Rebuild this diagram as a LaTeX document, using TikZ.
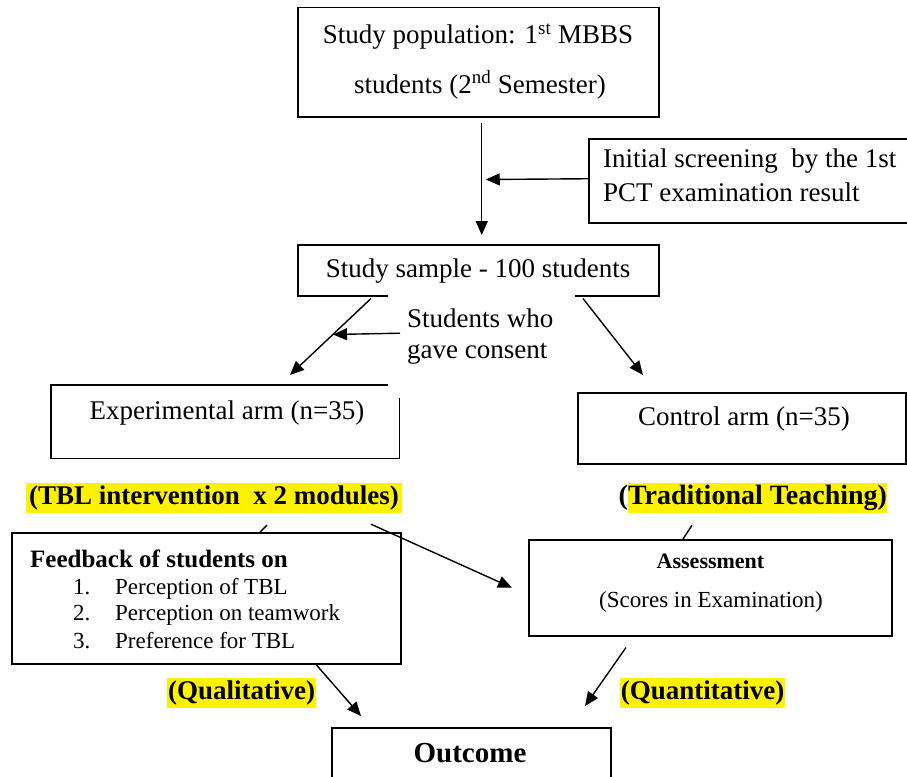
\documentclass[tikz,border=0pt]{standalone}
\usepackage{fontspec}
\setmainfont{Liberation Serif}
\usetikzlibrary{arrows.meta,calc}
\begin{document}
\begin{tikzpicture}[x=1pt,y=-1pt,
  box/.style={draw=black,line width=1.5pt,inner sep=0pt,anchor=north west},
  conn/.style={line width=1.4pt,-{Triangle[length=14pt,width=12pt]}},
  plainln/.style={line width=1.4pt},
  txt/.style={inner sep=0pt,anchor=base,font=\fontsize{27}{32}\selectfont},
  txtl/.style={inner sep=0pt,anchor=base west,font=\fontsize{27}{32}\selectfont},
  item/.style={inner sep=0pt,anchor=base west,font=\fontsize{23}{28}\selectfont},
  hl/.style={fill=yellow,inner sep=0pt,minimum height=30pt,font=\bfseries\fontsize{27}{32}\selectfont}
]
\useasboundingbox (0,0) rectangle (907,776);
\clip (0,0) rectangle (907,776);
\fill[white] (0,0) rectangle (907,776);

% Study population
\node[box,minimum width=361pt,minimum height=109pt] (pop) at (297,7) {};
\node[txt] (popa) at (478,44) {Study population: 1\textsuperscript{st} MBBS};
\node[txt] (popb) at (480,93) {students (2\textsuperscript{nd} Semester)};

% Initial screening
\node[box,minimum width=330pt,minimum height=84pt] (scr) at (588,138) {};
\node[txtl] (scra) at (603,167) {Initial screening\ \ by the 1st};
\node[txtl] (scrb) at (603,201) {PCT examination result};

% Study sample
\node[box,minimum width=361pt,minimum height=51pt] (samp) at (297,244) {};
\node[txt] (sampt) at (478,277) {Study sample - 100 students};

% consent note (white ground hides part of the sample box border)
\node[fill=white,inner sep=0pt,anchor=north west,minimum width=187pt,minimum height=80pt] (cons) at (388,292) {};
\node[txtl] (consa) at (407,327) {Students who};
\node[txtl] (consb) at (407,358) {gave consent};

% Experimental arm (border drawn with gaps)
\node[inner sep=0pt,anchor=north west,minimum width=348pt,minimum height=73pt] (exp) at (51,385) {};
\draw[line width=1.5pt] ($(exp.north east)+(-11,0)$) -- (exp.north west) -- (exp.south west) -- (exp.south east) -- ($(exp.north east)+(0,13)$);
\node[txt] (expt) at (227,419) {Experimental arm (n=35)};

% Control arm
\node[box,minimum width=328pt,minimum height=71pt] (ctrl) at (577,392) {};
\node[txt] (ctrlt) at (744,425) {Control arm (n=35)};

% highlighted labels
\node[hl,minimum width=376pt] (tbl) at (214,498) {(TBL intervention\ \ x 2 modules)};
\node[hl,minimum width=259pt,font=\bfseries\fontsize{28}{32}\selectfont] (trad) at (757.5,498) {\makebox[259pt][l]{\llap{(}Traditional Teaching)}};

% Feedback box
\node[box,minimum width=389pt,minimum height=131pt] (fb) at (11,532) {};
\node[inner sep=0pt,anchor=base west,font=\bfseries\fontsize{25}{30}\selectfont] (fbt) at (30,567) {Feedback of students on};
\node[item] (n1) at (73,594) {1.};
\node[item] (i1) at (115,594) {Perception of TBL};
\node[item] (n2) at (73,620) {2.};
\node[item] (i2) at (115,620) {Perception on teamwork};
\node[item] (n3) at (73,648) {3.};
\node[item] (i3) at (115,648) {Preference for TBL};

% Assessment box
\node[box,minimum width=363pt,minimum height=96pt] (asm) at (528,539) {};
\node[inner sep=0pt,anchor=base,font=\bfseries\fontsize{22}{26}\selectfont] (asmt) at (710.5,568) {Assessment};
\node[inner sep=0pt,anchor=base,font=\fontsize{23}{28}\selectfont] (asms) at (711,607) {(Scores in Examination)};

\node[hl,minimum width=149pt] (qual) at (241.5,693) {(Qualitative)};
\node[hl,minimum width=165pt] (quant) at (702.5,693) {(Quantitative)};

% Outcome
\node[box,minimum width=279pt,minimum height=80pt] (out) at (331,727) {};
\node[inner sep=0pt,anchor=base,font=\bfseries\fontsize{29}{34}\selectfont] (outt) at (470,762) {Outcome};

% connectors
\draw[conn] ($(pop.south)+(3.5,5)$) -- ($(samp.north)+(3.5,-9)$);
\coordinate (vhit) at ($(pop.south)+(7.5,62)$);
\draw[conn] ($(scr.west)+(0,-2)$) -- (vhit);

\draw[conn] ($(samp.south west)+(74,2)$) -- ($(exp.north west)+(239,-10)$);
\draw[conn] ($(samp.south west)+(286,2)$) -- ($(ctrl.north west)+(66,-17)$);
\coordinate (chit) at ($(samp.south west)+(36,38)$);
\draw[conn] ($(cons.west)+(12,1)$) -- (chit);

\draw[plainln] ($(tbl.south)+(53,12)$) -- ($(fb.north west)+(249,0)$);
\draw[conn] ($(tbl.south)+(157,11)$) -- ($(asm.west)+(-16,0)$);
\draw[plainln] ($(trad.south)+(-65.5,12)$) -- ($(asm.north west)+(155,0)$);

\draw[conn] ($(fb.south west)+(305,0)$) -- ($(out.north west)+(30,-11)$);
\draw[conn] ($(asm.south west)+(98,11)$) -- ($(out.north west)+(254,-21)$);
\end{tikzpicture}
\end{document}
